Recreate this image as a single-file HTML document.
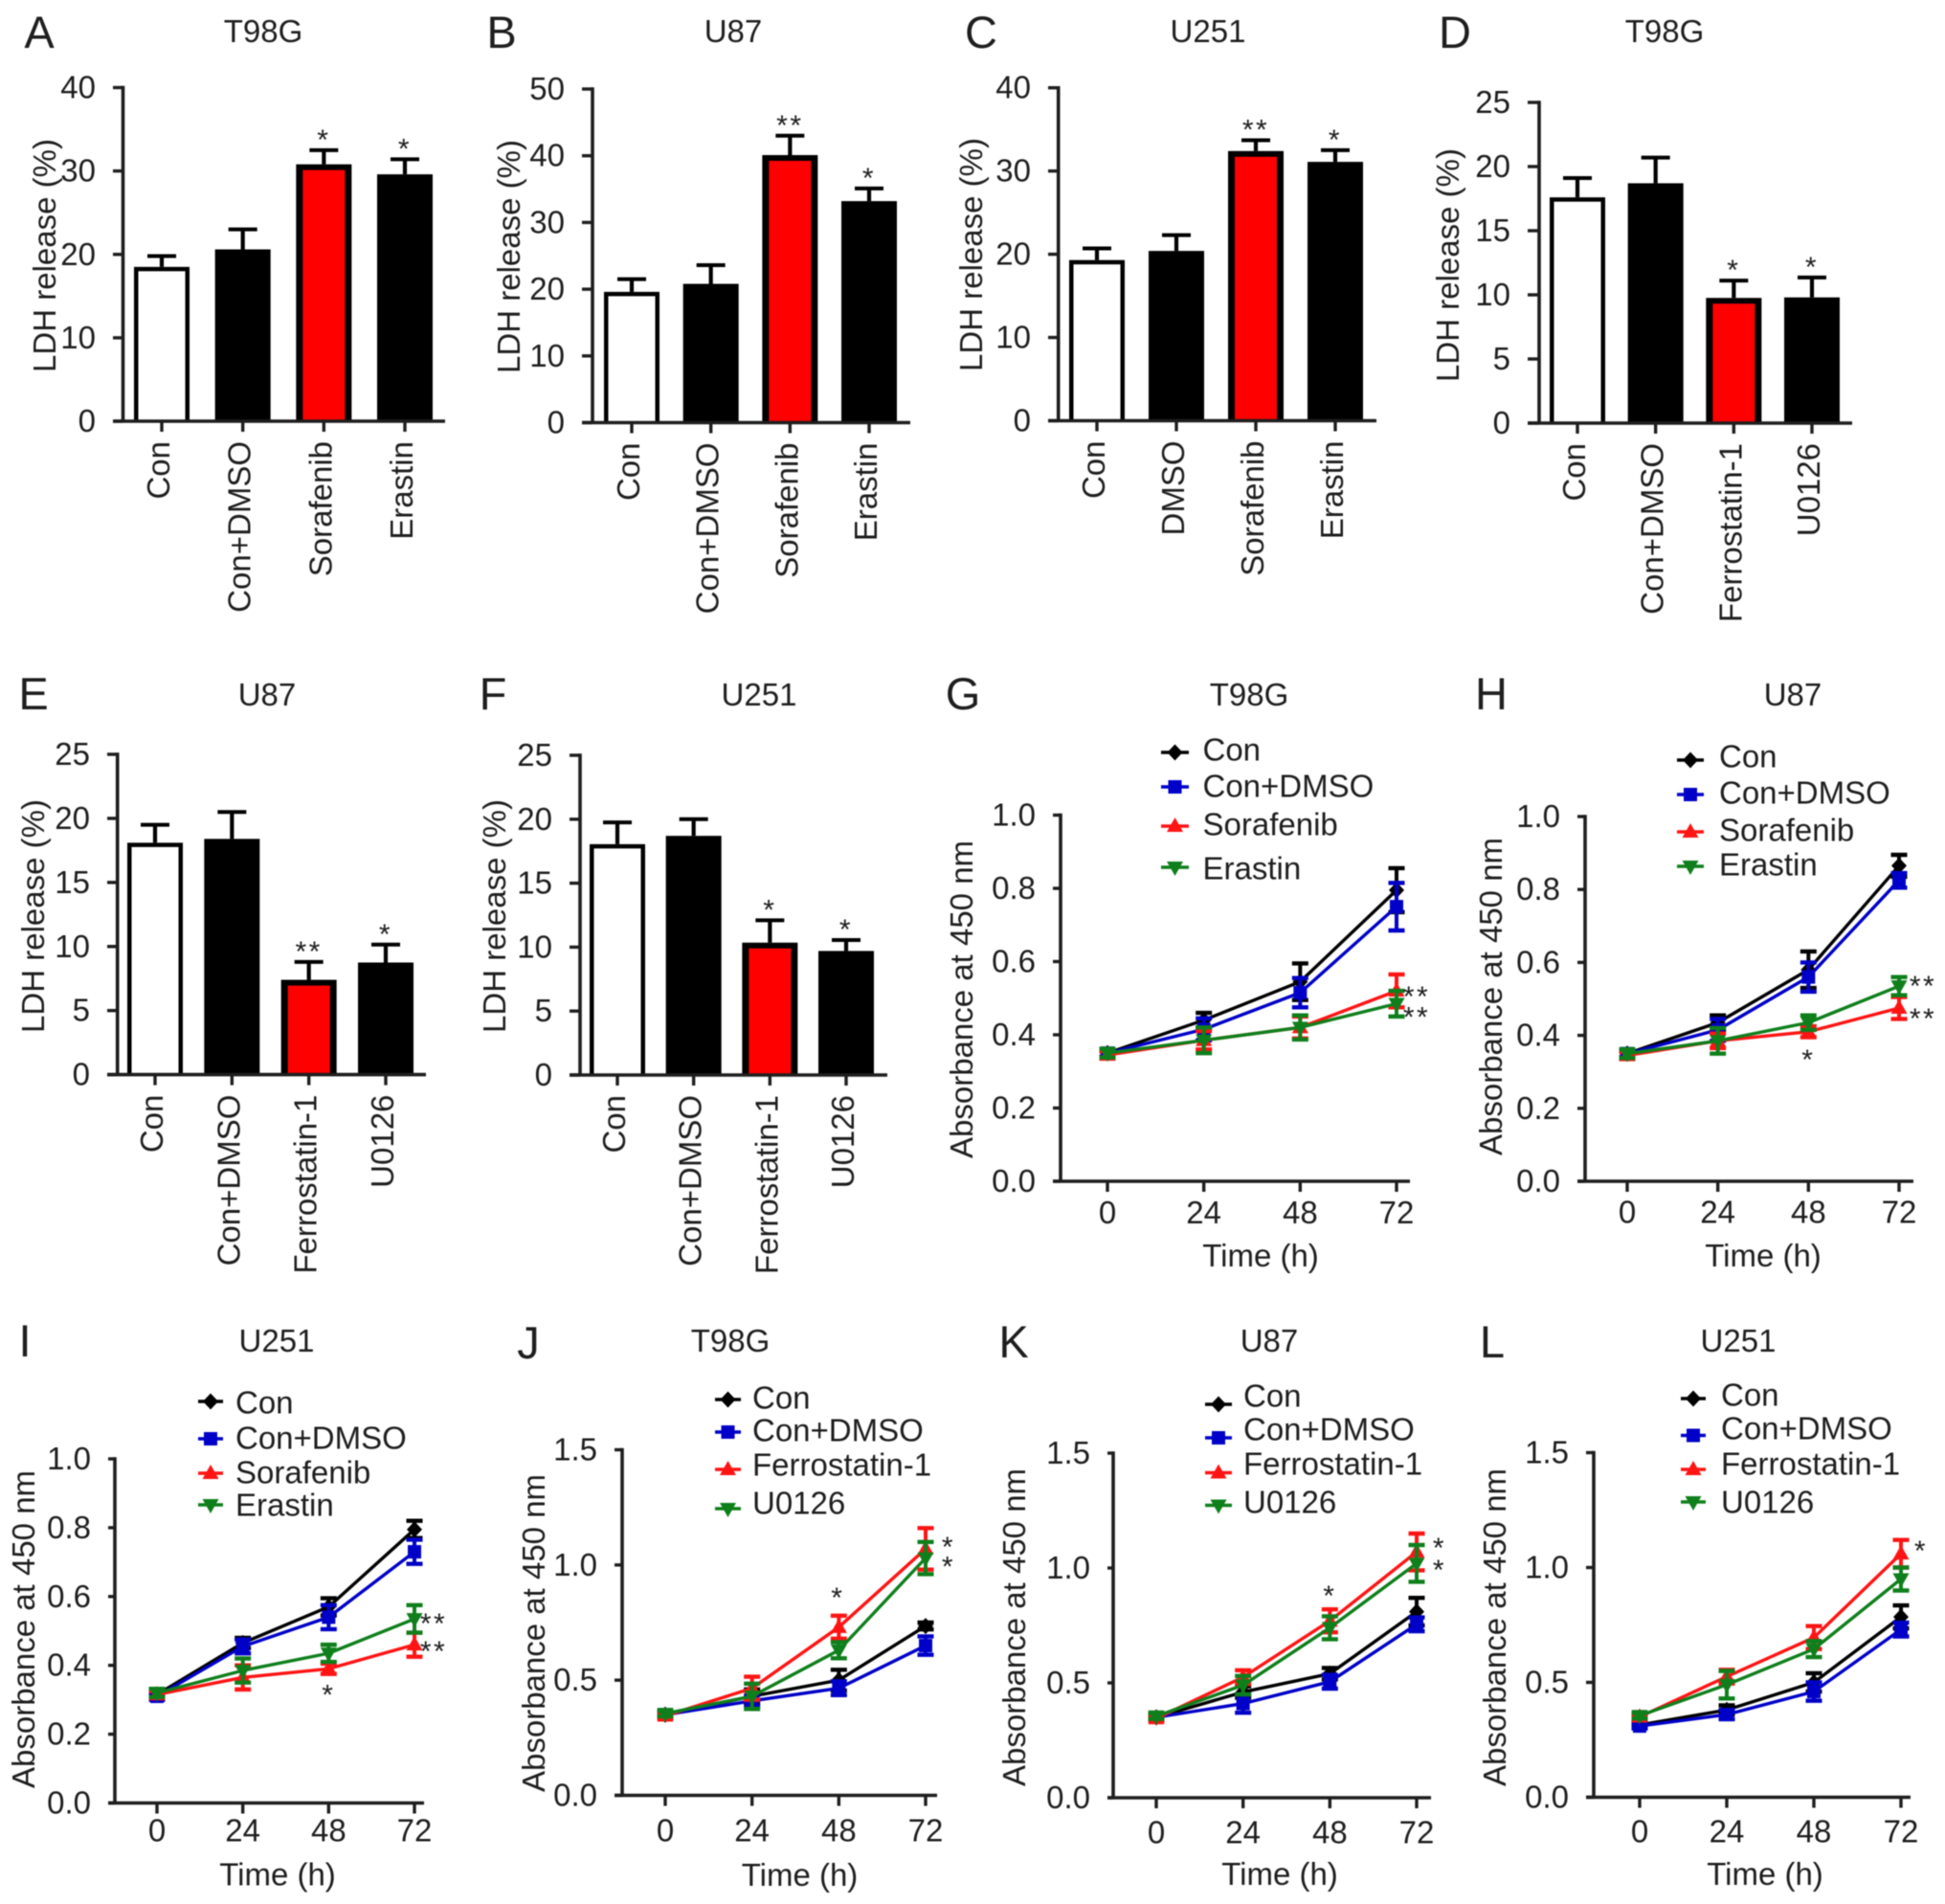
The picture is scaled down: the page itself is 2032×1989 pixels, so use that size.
<!DOCTYPE html>
<html lang="en">
<head>
<meta charset="utf-8">
<title>LDH release and absorbance panels</title>
<style>
html,body{margin:0;padding:0;background:#fff;width:2032px;height:1989px;overflow:hidden}
svg{display:block;filter:blur(.6px)}
text{font-family:"Liberation Sans",Arial,sans-serif;fill:#1e1e1e}
</style>
</head>
<body>
<svg id="figure" xmlns="http://www.w3.org/2000/svg" width="2032" height="1989" viewBox="0 0 2032 1989"></svg>
<script>
// ---------- bar chart data ----------
const barACategories = ['Con','Con+DMSO','Sorafenib','Erastin'];
const barAValues = [18.5,20.6,30.8,29.6];
const barAErrors = [1.3,2.4,1.7,1.8];
const barAStars = ['','','*','*'];
const barATicks = [0,10,20,30,40];

const barBCategories = ['Con','Con+DMSO','Sorafenib','Erastin'];
const barBValues = [19.6,20.8,40.1,33.2];
const barBErrors = [1.9,2.8,2.9,1.9];
const barBStars = ['','','**','*'];
const barBTicks = [0,10,20,30,40,50];

const barCCategories = ['Con','DMSO','Sorafenib','Erastin'];
const barCValues = [19.3,20.4,32.4,31.1];
const barCErrors = [1.4,1.9,1.3,1.4];
const barCStars = ['','','**','*'];
const barCTicks = [0,10,20,30,40];

const barDCategories = ['Con','Con+DMSO','Ferrostatin-1','U0126'];
const barDValues = [17.6,18.7,9.76,9.8];
const barDErrors = [1.5,2.0,1.35,1.55];
const barDStars = ['','','*','*'];
const barDTicks = [0,5,10,15,20,25];

const barECategories = ['Con','Con+DMSO','Ferrostatin-1','U0126'];
const barEValues = [18.1,18.4,7.4,8.75];
const barEErrors = [1.4,2.1,1.4,1.4];
const barEStars = ['','','**','*'];
const barETicks = [0,5,10,15,20,25];

const barFCategories = ['Con','Con+DMSO','Ferrostatin-1','U0126'];
const barFValues = [18.05,18.7,10.35,9.7];
const barFErrors = [1.7,1.3,1.75,0.85];
const barFStars = ['','','*','*'];
const barFTicks = [0,5,10,15,20,25];

// ---------- line chart data ----------
const timePoints = [0,24,48,72];
const absorbanceTicksSmall = ['0.0','0.2','0.4','0.6','0.8','1.0'];
const absorbanceTicksLarge = ['0.0','0.5','1.0','1.5'];
const sorafenibSeriesNames = ['Con','Con+DMSO','Sorafenib','Erastin'];
const ferrostatinSeriesNames = ['Con','Con+DMSO','Ferrostatin-1','U0126'];

const lineGCon = [0.35,0.44,0.545,0.795];
const lineGConErr = [0.01,0.02,0.05,0.06];
const lineGDmso = [0.35,0.415,0.515,0.75];
const lineGDmsoErr = [0.01,0.03,0.04,0.065];
const lineGTreatA = [0.345,0.385,0.42,0.52];
const lineGTreatAErr = [0.01,0.025,0.03,0.045];
const lineGTreatB = [0.35,0.385,0.42,0.485];
const lineGTreatBErr = [0.012,0.035,0.033,0.035];

const lineHCon = [0.35,0.435,0.58,0.865];
const lineHConErr = [0.01,0.02,0.05,0.03];
const lineHDmso = [0.35,0.415,0.56,0.825];
const lineHDmsoErr = [0.01,0.03,0.04,0.02];
const lineHTreatA = [0.345,0.385,0.41,0.475];
const lineHTreatAErr = [0.01,0.02,0.015,0.03];
const lineHTreatB = [0.35,0.385,0.435,0.535];
const lineHTreatBErr = [0.012,0.035,0.02,0.025];

const lineICon = [0.315,0.465,0.57,0.795];
const lineIConErr = [0.01,0.015,0.025,0.025];
const lineIDmso = [0.31,0.455,0.54,0.73];
const lineIDmsoErr = [0.01,0.02,0.035,0.035];
const lineITreatA = [0.315,0.365,0.39,0.46];
const lineITreatAErr = [0.01,0.035,0.015,0.035];
const lineITreatB = [0.32,0.385,0.435,0.535];
const lineITreatBErr = [0.012,0.035,0.025,0.04];

const lineJCon = [0.35,0.43,0.50,0.735];
const lineJConErr = [0.01,0.03,0.045,0.015];
const lineJDmso = [0.35,0.41,0.465,0.65];
const lineJDmsoErr = [0.01,0.025,0.03,0.04];
const lineJTreatA = [0.345,0.465,0.73,1.07];
const lineJTreatAErr = [0.01,0.05,0.05,0.09];
const lineJTreatB = [0.355,0.43,0.63,1.03];
const lineJTreatBErr = [0.012,0.055,0.035,0.07];

const lineKCon = [0.35,0.46,0.54,0.81];
const lineKConErr = [0.01,0.025,0.025,0.06];
const lineKDmso = [0.35,0.41,0.505,0.755];
const lineKDmsoErr = [0.01,0.04,0.03,0.03];
const lineKTreatA = [0.345,0.525,0.77,1.07];
const lineKTreatAErr = [0.01,0.03,0.05,0.08];
const lineKTreatB = [0.355,0.49,0.74,1.02];
const lineKTreatBErr = [0.012,0.04,0.05,0.08];

const lineLCon = [0.315,0.38,0.50,0.785];
const lineLConErr = [0.01,0.02,0.04,0.05];
const lineLDmso = [0.31,0.36,0.46,0.73];
const lineLDmsoErr = [0.01,0.02,0.04,0.03];
const lineLTreatA = [0.35,0.525,0.695,1.06];
const lineLTreatAErr = [0.01,0.03,0.05,0.06];
const lineLTreatB = [0.355,0.49,0.645,0.95];
const lineLTreatBErr = [0.012,0.06,0.035,0.05];

// ---------- drawing ----------
const svg = document.getElementById('figure');
const NS = 'http://www.w3.org/2000/svg';
const FONT = 33;
const seriesColors = ['#000000','#0000c8','#ff1414','#0f7f1c'];

function make(tag, attrs, parent) {
  const el = document.createElementNS(NS, tag);
  for (const k in attrs) el.setAttribute(k, attrs[k]);
  parent.appendChild(el);
  return el;
}
function label(txt, attrs, parent, size) {
  const el = make('text', Object.assign({'font-size': size || FONT}, attrs), parent);
  el.textContent = txt;
  return el;
}
function stroke(x1, y1, x2, y2, w, col, parent) {
  return make('line', {x1:x1, y1:y1, x2:x2, y2:y2, 'stroke-width':w, stroke:col}, parent);
}
function starLabel(txt, cx, cy, parent) {
  return label(txt, {x:cx, y:cy + 17, 'text-anchor':'middle', 'letter-spacing':2.5}, parent, 30);
}

function drawHeader(g, id, letter, title, layout) {
  const letterEl = label(letter, {x:layout.letterX, y:layout.letterY + 17, 'text-anchor':'middle'}, g, 47);
  
  
  const titleEl = label(title, {x:layout.titleX, y:layout.titleY + 11, 'text-anchor':'middle'}, g);
  
  
}

function drawAxes(g, id, layout, tickValues, yOf, yTitle) {
  const axis = '#1e1e1e';
  const yAxis = stroke(layout.axisX, layout.yTop - 1.7, layout.axisX, layout.y0, 3.6, axis, g);
  
  
  const xAxis = stroke(layout.leftTick, layout.y0, layout.xEnd, layout.y0, 3.6, axis, g);
  
  
  tickValues.forEach(function (t) {
    const y = yOf(Number(t));
    const tick = stroke(layout.leftTick, y, layout.axisX, y, 3.4, axis, g);
    
    
    const tl = label(String(t), {x:layout.leftTick - 18, y:y + 11, 'text-anchor':'end'}, g);
    
    
  });
  const yt = label(yTitle, {
    x:0, y:0, 'text-anchor':'middle',
    transform:'translate(' + (layout.yTitleX + 11) + ' ' + layout.yTitleY + ') rotate(-90)'
  }, g);
  
  
}

function drawBarPanel(p) {
  const L = p.layout;
  const g = make('g', {}, svg);
  
  
  drawHeader(g, p.id, p.letter, p.title, L);
  const maxV = p.ticks[p.ticks.length - 1];
  const yOf = function (v) { return L.y0 - (v / maxV) * (L.y0 - L.yTop); };
  const xOf = function (i) { return L.barFirst + i * (L.barLast - L.barFirst) / (p.categories.length - 1); };
  const barW = 58;
  p.values.forEach(function (v, i) {
    const cx = xOf(i), top = yOf(v), errTop = yOf(v + p.errors[i]);
    const whisker = stroke(cx, top, cx, errTop, 4.2, '#000', g);
    
    
    const cap = stroke(cx - 15, errTop, cx + 15, errTop, 4, '#000', g);
    
    
    const bar = make('rect', {x:cx - barW / 2, y:top, width:barW, height:L.y0 - top, fill:'#000'}, g);
    
    
    if (i === 0 || i === 2) {
      const inset = i === 0 ? 4.5 : 7;
      const fillEl = make('rect', {
        x:cx - barW / 2 + inset, y:top + inset - (i === 0 ? 0 : 1),
        width:barW - 2 * inset, height:Math.max(0, L.y0 - top - inset + (i === 0 ? 0 : 1) - 1.5),
        fill:i === 0 ? '#fff' : '#ff0000'
      }, g);
      
      
    }
    const tick = stroke(cx, L.y0, cx, L.y0 + 11, 3.4, '#1e1e1e', g);
    
    
    const cl = label(p.categories[i], {
      x:0, y:0, 'text-anchor':'end',
      transform:'translate(' + (cx + 8) + ' ' + (L.y0 + 21) + ') rotate(-90)'
    }, g);
    
    
    if (p.stars[i]) {
      const s = starLabel(p.stars[i], cx, errTop - 18, g);
      
      
    }
  });
  drawAxes(g, p.id, L, p.ticks, yOf, 'LDH release (%)');
}

function drawMarker(kind, cx, cy, color, parent) {
  if (kind === 0) return make('path', {d:'M' + cx + ' ' + (cy - 8.5) + 'L' + (cx + 8) + ' ' + cy + 'L' + cx + ' ' + (cy + 8.5) + 'L' + (cx - 8) + ' ' + cy + 'Z', fill:color}, parent);
  if (kind === 1) return make('rect', {x:cx - 7, y:cy - 7, width:14, height:14, fill:color}, parent);
  if (kind === 2) return make('path', {d:'M' + cx + ' ' + (cy - 9) + 'L' + (cx + 8.5) + ' ' + (cy + 6) + 'L' + (cx - 8.5) + ' ' + (cy + 6) + 'Z', fill:color}, parent);
  return make('path', {d:'M' + cx + ' ' + (cy + 9) + 'L' + (cx + 8.5) + ' ' + (cy - 6) + 'L' + (cx - 8.5) + ' ' + (cy - 6) + 'Z', fill:color}, parent);
}

function drawLinePanel(p) {
  const L = p.layout;
  const g = make('g', {}, svg);
  
  
  drawHeader(g, p.id, p.letter, p.title, L);
  const maxV = Number(p.ticks[p.ticks.length - 1]);
  const maxT = timePoints[timePoints.length - 1];
  const yOf = function (v) { return L.y0 - (v / maxV) * (L.y0 - L.yTop); };
  const xOf = function (t) { return L.x0 + (t / maxT) * (L.x72 - L.x0); };
  drawAxes(g, p.id, L, p.ticks, yOf, 'Absorbance at 450 nm');
  timePoints.forEach(function (t) {
    const x = xOf(t);
    const tick = stroke(x, L.y0, x, L.y0 + 11, 3.4, '#1e1e1e', g);
    
    
    const tl = label(String(t), {x:x, y:L.xTickY + 11.5, 'text-anchor':'middle'}, g);
    
    
  });
  const xt = label('Time (h)', {x:L.xTitleX, y:L.xTitleY + 11.5, 'text-anchor':'middle'}, g);
  
  
  p.series.forEach(function (vals, s) {
    const color = seriesColors[s];
    const pts = vals.map(function (v, i) { return xOf(timePoints[i]) + ',' + yOf(v); }).join(' ');
    const line = make('polyline', {points:pts, fill:'none', stroke:color, 'stroke-width':3.4, 'stroke-linejoin':'round'}, g);
    
    
    vals.forEach(function (v, i) {
      const x = xOf(timePoints[i]), e = p.errors[s][i];
      const hi = yOf(v + e), lo = yOf(v - e);
      const bar = stroke(x, hi, x, lo, 4, color, g);
      
      
      const capHi = stroke(x - 8.5, hi, x + 8.5, hi, 4.4, color, g);
      
      
      const capLo = stroke(x - 8.5, lo, x + 8.5, lo, 4.4, color, g);
      
      
      const m = drawMarker(s, x, yOf(v), color, g);
      
      
    });
  });
  p.annotations.forEach(function (a) {
    const x = xOf(timePoints[a.time]) + a.dx;
    const y = yOf(p.series[a.series][a.time]) + a.dy;
    const st = starLabel(a.text, x, y, g);
    
    
  });
  p.names.forEach(function (name, s) {
    const color = seriesColors[s];
    const row = make('g', {}, g);
    
    
    const ly = L.legendLineY[s];
    stroke(L.legendX1, ly, L.legendX2, ly, 3.4, color, row);
    drawMarker(s, (L.legendX1 + L.legendX2) / 2, ly, color, row);
    label(name, {x:L.legendTextX, y:L.legendTextY[s] + 10.5}, row);
  });
}

// ---------- panel layout (frame geometry only) ----------
const barPanels = [
  {id:'a', letter:'A', title:'T98G', categories:barACategories, values:barAValues, errors:barAErrors, stars:barAStars, ticks:barATicks,
   layout:{letterX:41,letterY:33,titleX:275,titleY:33,axisX:128.5,leftTick:118,xEnd:465,yTop:91.5,y0:440,barFirst:169,barLast:423,yTitleX:47,yTitleY:267}},
  {id:'b', letter:'B', title:'U87', categories:barBCategories, values:barBValues, errors:barBErrors, stars:barBStars, ticks:barBTicks,
   layout:{letterX:524,letterY:33,titleX:766,titleY:33,axisX:619,leftTick:608,xEnd:951,yTop:93,y0:441.5,barFirst:660,barLast:908,yTitleX:532,yTitleY:268}},
  {id:'c', letter:'C', title:'U251', categories:barCCategories, values:barCValues, errors:barCErrors, stars:barCStars, ticks:barCTicks,
   layout:{letterX:1025,letterY:33,titleX:1262,titleY:33,axisX:1105.7,leftTick:1095,xEnd:1438,yTop:91.7,y0:439.5,barFirst:1146,barLast:1395,yTitleX:1015,yTitleY:266}},
  {id:'d', letter:'D', title:'T98G', categories:barDCategories, values:barDValues, errors:barDErrors, stars:barDStars, ticks:barDTicks,
   layout:{letterX:1520,letterY:33,titleX:1739,titleY:33,axisX:1608,leftTick:1596,xEnd:1935,yTop:107,y0:442,barFirst:1648,barLast:1893,yTitleX:1513,yTitleY:277}},
  {id:'e', letter:'E', title:'U87', categories:barECategories, values:barEValues, errors:barEErrors, stars:barEStars, ticks:barETicks,
   layout:{letterX:35,letterY:724,titleX:279,titleY:726,axisX:122.7,leftTick:112,xEnd:445,yTop:788,y0:1122.6,barFirst:162,barLast:403,yTitleX:35,yTitleY:957}},
  {id:'f', letter:'F', title:'U251', categories:barFCategories, values:barFValues, errors:barFErrors, stars:barFStars, ticks:barFTicks,
   layout:{letterX:515,letterY:724,titleX:793,titleY:726,axisX:606,leftTick:595,xEnd:927,yTop:789,y0:1123,barFirst:645,barLast:884,yTitleX:517,yTitleY:957}}
];

const linePanels = [
  {id:'g', letter:'G', title:'T98G', names:sorafenibSeriesNames, ticks:absorbanceTicksSmall,
   series:[lineGCon,lineGDmso,lineGTreatA,lineGTreatB], errors:[lineGConErr,lineGDmsoErr,lineGTreatAErr,lineGTreatBErr],
   annotations:[{series:2,time:3,text:'**',dx:21,dy:-1},{series:3,time:3,text:'**',dx:21,dy:7}],
   layout:{letterX:1006,letterY:724,titleX:1305,titleY:726,axisX:1108,leftTick:1100,xEnd:1473,yTop:851.5,y0:1234,x0:1157,x72:1459,xTickY:1266.5,xTitleX:1317,xTitleY:1311.5,yTitleX:1005,yTitleY:1044,
     legendX1:1213,legendX2:1242,legendTextX:1256.5,legendLineY:[786,822,863,906],legendTextY:[784,822,862,908]}},
  {id:'h', letter:'H', title:'U87', names:sorafenibSeriesNames, ticks:absorbanceTicksSmall,
   series:[lineHCon,lineHDmso,lineHTreatA,lineHTreatB], errors:[lineHConErr,lineHDmsoErr,lineHTreatAErr,lineHTreatBErr],
   annotations:[{series:3,time:3,text:'**',dx:25,dy:-7},{series:2,time:3,text:'**',dx:25,dy:4},{series:2,time:2,text:'*',dx:0,dy:22}],
   layout:{letterX:1558,letterY:724,titleX:1873,titleY:726,axisX:1656,leftTick:1648,xEnd:1999,yTop:853,y0:1234,x0:1700,x72:1984,xTickY:1266,xTitleX:1842,xTitleY:1311.5,yTitleX:1558,yTitleY:1041,
     legendX1:1752,legendX2:1780,legendTextX:1796,legendLineY:[794,830,869,905],legendTextY:[791,829,868,904]}},
  {id:'i', letter:'I', title:'U251', names:sorafenibSeriesNames, ticks:absorbanceTicksSmall,
   series:[lineICon,lineIDmso,lineITreatA,lineITreatB], errors:[lineIConErr,lineIDmsoErr,lineITreatAErr,lineITreatBErr],
   annotations:[{series:3,time:3,text:'**',dx:20,dy:-2},{series:2,time:3,text:'**',dx:20,dy:0},{series:2,time:2,text:'*',dx:0,dy:20}],
   layout:{letterX:26,letterY:1400,titleX:289,titleY:1401,axisX:120,leftTick:113,xEnd:443,yTop:1524,y0:1883.5,x0:164,x72:433,xTickY:1912,xTitleX:290,xTitleY:1958,yTitleX:25,yTitleY:1702,
     legendX1:207,legendX2:233,legendTextX:246,legendLineY:[1464,1503,1539,1572],legendTextY:[1466,1503,1539,1573]}},
  {id:'j', letter:'J', title:'T98G', names:ferrostatinSeriesNames, ticks:absorbanceTicksLarge,
   series:[lineJCon,lineJDmso,lineJTreatA,lineJTreatB], errors:[lineJConErr,lineJDmsoErr,lineJTreatAErr,lineJTreatBErr],
   annotations:[{series:2,time:3,text:'*',dx:24,dy:-9},{series:3,time:3,text:'*',dx:24,dy:2},{series:2,time:2,text:'*',dx:-1,dy:-38}],
   layout:{letterX:552,letterY:1402,titleX:763,titleY:1401,axisX:650,leftTick:642,xEnd:979,yTop:1514.5,y0:1875.5,x0:695,x72:967,xTickY:1912,xTitleX:835.5,xTitleY:1958.5,yTitleX:558,yTitleY:1706,
     legendX1:747,legendX2:774,legendTextX:786,legendLineY:[1462,1496,1535,1576],legendTextY:[1461,1495,1531,1571]}},
  {id:'k', letter:'K', title:'U87', names:ferrostatinSeriesNames, ticks:absorbanceTicksLarge,
   series:[lineKCon,lineKDmso,lineKTreatA,lineKTreatB], errors:[lineKConErr,lineKDmsoErr,lineKTreatAErr,lineKTreatBErr],
   annotations:[{series:2,time:3,text:'*',dx:24,dy:-11},{series:3,time:3,text:'*',dx:24,dy:0},{series:2,time:2,text:'*',dx:0,dy:-33}],
   layout:{letterX:1059,letterY:1401,titleX:1326,titleY:1401,axisX:1163,leftTick:1157,xEnd:1495,yTop:1518,y0:1878,x0:1208,x72:1480,xTickY:1914,xTitleX:1337,xTitleY:1957.5,yTitleX:1060,yTitleY:1700,
     legendX1:1259,legendX2:1287,legendTextX:1299,legendLineY:[1467,1502,1538.5,1572.5],legendTextY:[1459,1494,1530,1570]}},
  {id:'l', letter:'L', title:'U251', names:ferrostatinSeriesNames, ticks:absorbanceTicksLarge,
   series:[lineLCon,lineLDmso,lineLTreatA,lineLTreatB], errors:[lineLConErr,lineLDmsoErr,lineLTreatAErr,lineLTreatBErr],
   annotations:[{series:2,time:3,text:'*',dx:21,dy:-10}],
   layout:{letterX:1559,letterY:1401,titleX:1816,titleY:1401,axisX:1665,leftTick:1657,xEnd:1996,yTop:1517.5,y0:1877.5,x0:1713,x72:1986,xTickY:1913,xTitleX:1844,xTitleY:1957.5,yTitleX:1562,yTitleY:1700,
     legendX1:1756,legendX2:1782,legendTextX:1798,legendLineY:[1461,1499.5,1535,1569],legendTextY:[1458,1493,1530,1570]}}
];

barPanels.forEach(drawBarPanel);
linePanels.forEach(drawLinePanel);
</script>
</body>
</html>
